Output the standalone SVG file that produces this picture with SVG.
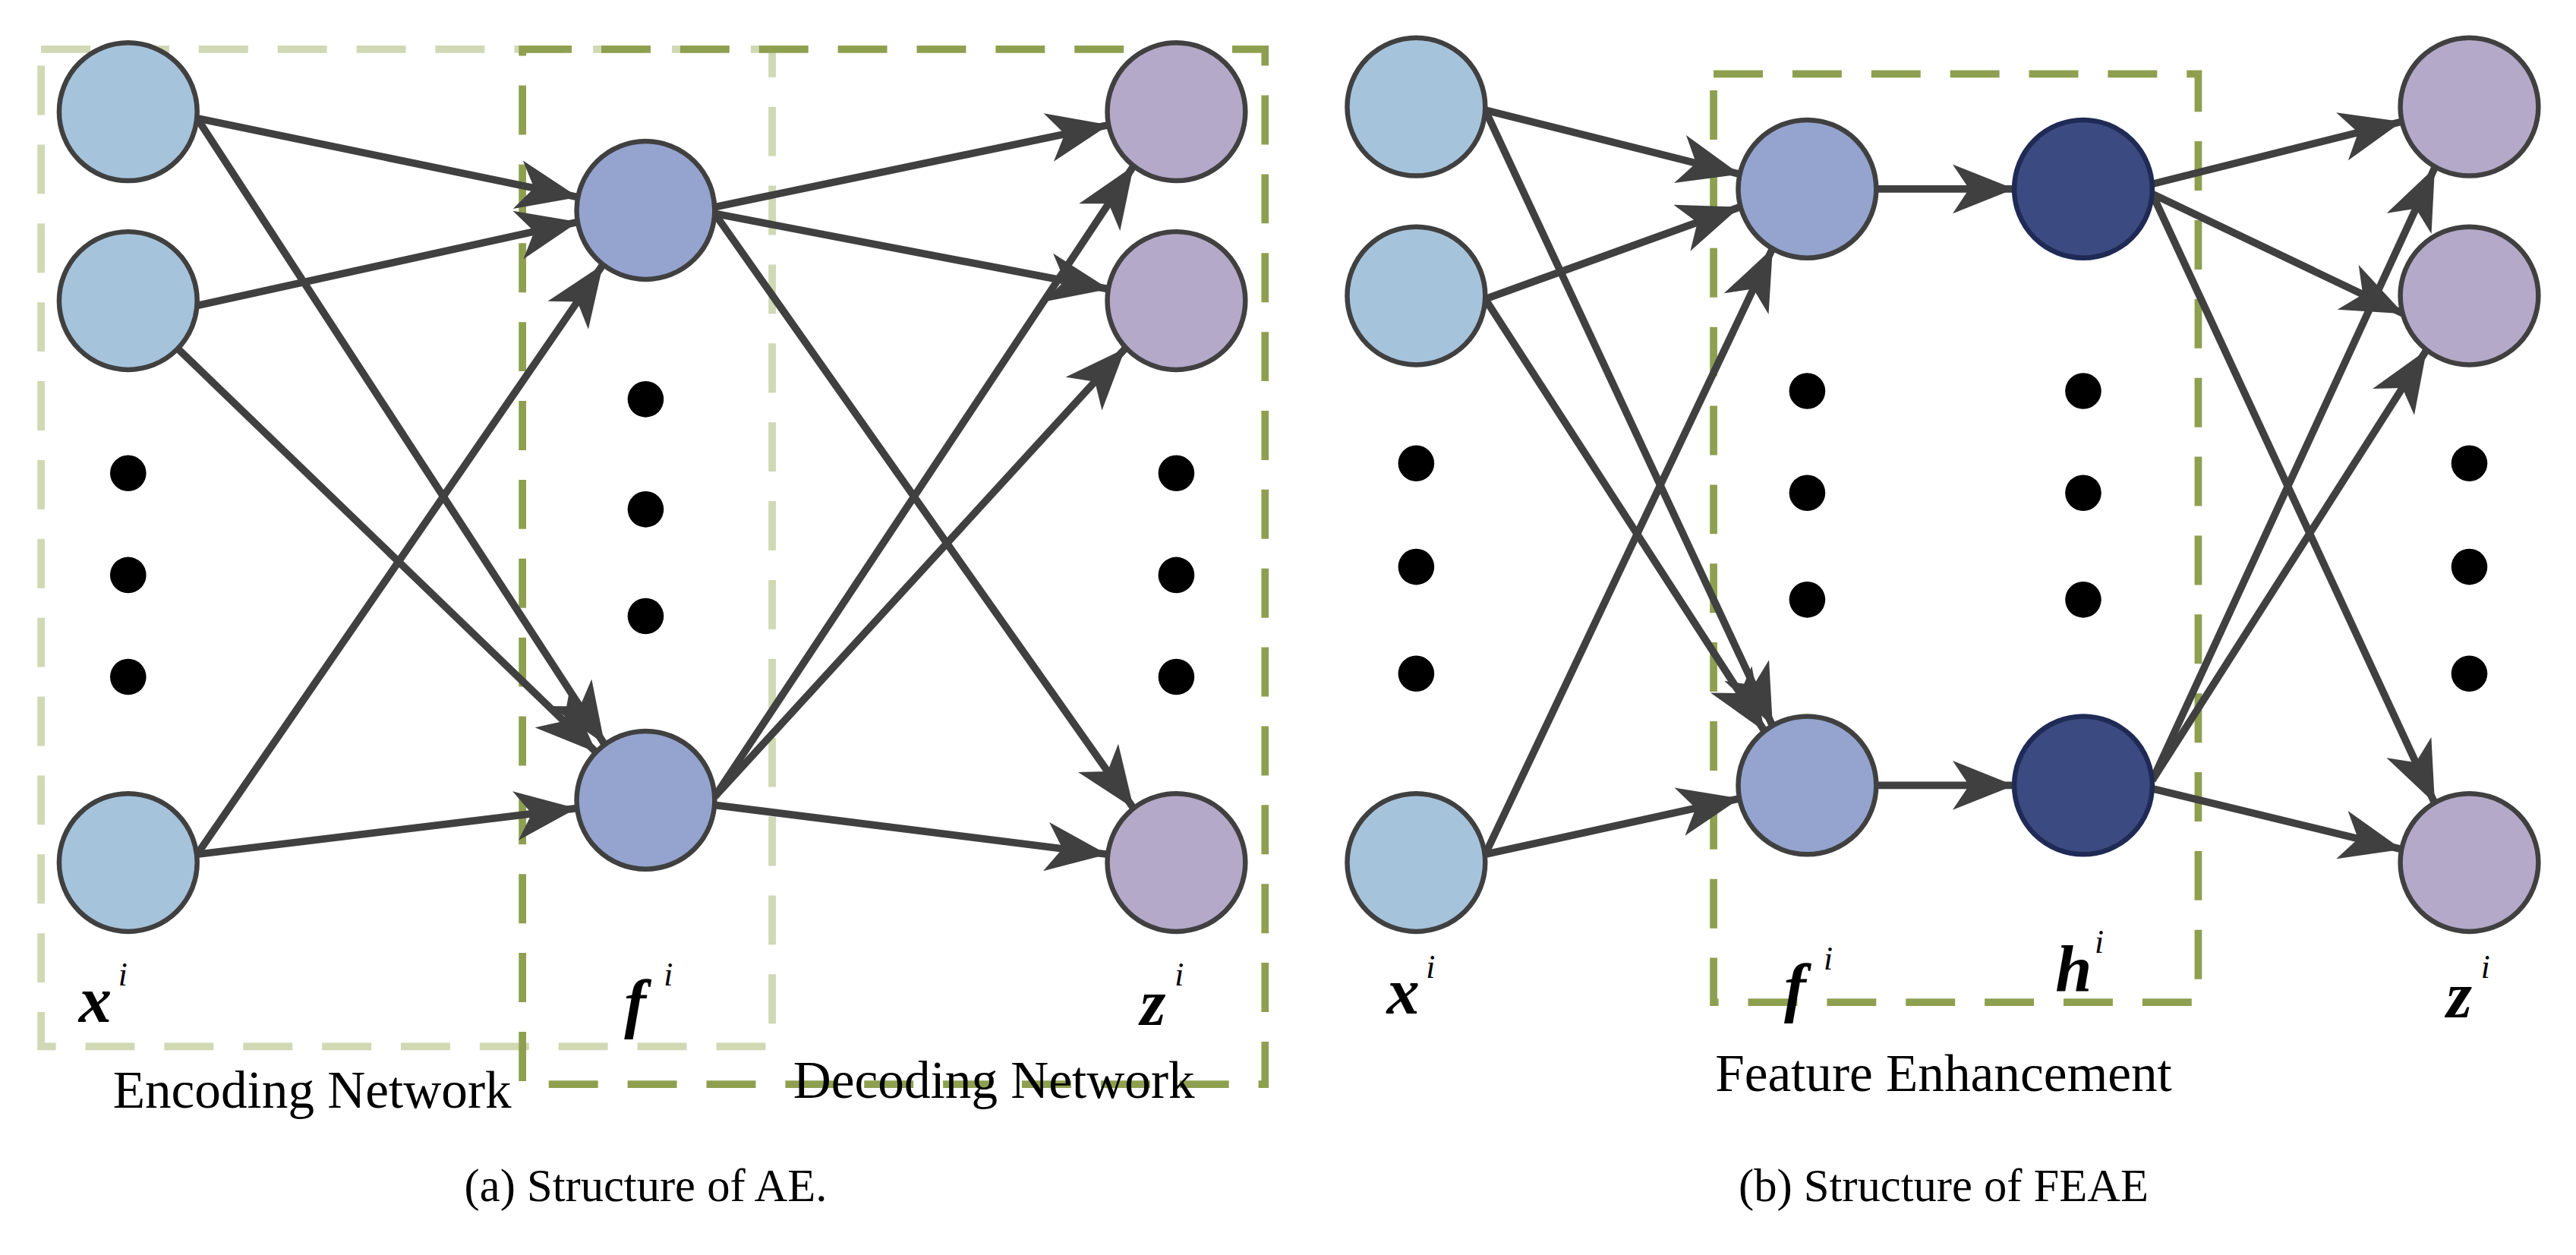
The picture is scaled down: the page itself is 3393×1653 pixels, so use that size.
<svg xmlns="http://www.w3.org/2000/svg" width="3393" height="1653" viewBox="0 0 3393 1653">
<style>
.e{stroke:#404040;stroke-width:4.5;fill:none;marker-end:url(#ah)}
.n{stroke:#404040;stroke-width:3}
.x{fill:#a6c3dc}.f{fill:#94a4cf}.z{fill:#b4a9c9}.h{fill:#3b4a80;stroke:#1f2a55}
.d{fill:#000}
.lb{fill:none;stroke:#d0d8b4;stroke-width:4.5;stroke-dasharray:30 18}
.db{fill:none;stroke:#8ea050;stroke-width:4.5;stroke-dasharray:30 18}
.t{font-family:"Liberation Serif",serif;fill:#000}
.m{font-family:"Liberation Serif",serif;font-weight:bold;font-style:italic;font-size:40px}
.s{font-family:"Liberation Serif",serif;font-style:italic;font-size:20px}
</style>
<defs>
<marker id="ah" viewBox="0 0 30 24" refX="30" refY="12" markerWidth="38" markerHeight="30" markerUnits="userSpaceOnUse" orient="auto">
<path d="M0,0 L30,12 L0,24 L8,12 Z" fill="#404040"/>
</marker>
</defs>
<rect width="3393" height="1653" fill="#fff"/>
<g transform="scale(2.164)">
<g id="boxes">
<rect class="lb" x="25" y="30" width="445" height="607"/>
<rect class="db" x="318" y="30" width="452" height="630"/>
<rect class="db" x="1043" y="45" width="295" height="565"/>
</g>
<g id="connectors">
<line class="e" x1="120" y1="72" x2="352" y2="120"/>
<line class="e" x1="120" y1="72" x2="368" y2="453"/>
<line class="e" x1="120" y1="186" x2="352" y2="135"/>
<line class="e" x1="108" y1="212" x2="363" y2="458"/>
<line class="e" x1="120" y1="520" x2="367" y2="161"/>
<line class="e" x1="120" y1="520" x2="351" y2="492"/>
<line class="e" x1="435" y1="126" x2="675" y2="76"/>
<line class="e" x1="435" y1="130" x2="675" y2="176"/>
<line class="e" x1="435" y1="130" x2="690" y2="492"/>
<line class="e" x1="435" y1="485" x2="690" y2="101"/>
<line class="e" x1="435" y1="485" x2="685" y2="212"/>
<line class="e" x1="435" y1="490" x2="674" y2="520"/>
<line class="e" x1="904" y1="67" x2="1059" y2="106"/>
<line class="e" x1="904" y1="67" x2="1079" y2="442"/>
<line class="e" x1="904" y1="182" x2="1059" y2="126"/>
<line class="e" x1="904" y1="182" x2="1074" y2="445"/>
<line class="e" x1="904" y1="520" x2="1079" y2="151"/>
<line class="e" x1="904" y1="520" x2="1059" y2="486"/>
<line class="e" x1="1142" y1="115" x2="1226" y2="115"/>
<line class="e" x1="1142" y1="478" x2="1226" y2="478"/>
<line class="e" x1="1310" y1="112" x2="1462" y2="74"/>
<line class="e" x1="1310" y1="118" x2="1463" y2="191"/>
<line class="e" x1="1310" y1="118" x2="1482" y2="489"/>
<line class="e" x1="1310" y1="475" x2="1482" y2="102"/>
<line class="e" x1="1310" y1="475" x2="1477" y2="213"/>
<line class="e" x1="1310" y1="480" x2="1462" y2="517"/>
</g>
<g id="a-x"><circle class="n x" cx="78" cy="68" r="42"/><circle class="n x" cx="78" cy="183" r="42"/><circle class="n x" cx="78" cy="525" r="42"/>
<circle class="d" cx="78" cy="288" r="11"/><circle class="d" cx="78" cy="350" r="11"/><circle class="d" cx="78" cy="412" r="11"/></g>
<g id="a-f"><circle class="n f" cx="393" cy="128" r="42"/><circle class="n f" cx="393" cy="487" r="42"/>
<circle class="d" cx="393" cy="243" r="11"/><circle class="d" cx="393" cy="310" r="11"/><circle class="d" cx="393" cy="375" r="11"/></g>
<g id="a-z"><circle class="n z" cx="716" cy="68" r="42"/><circle class="n z" cx="716" cy="183" r="42"/><circle class="n z" cx="716" cy="525" r="42"/>
<circle class="d" cx="716" cy="288" r="11"/><circle class="d" cx="716" cy="350" r="11"/><circle class="d" cx="716" cy="412" r="11"/></g>
<g id="b-x"><circle class="n x" cx="862" cy="65" r="42"/><circle class="n x" cx="862" cy="180" r="42"/><circle class="n x" cx="862" cy="525" r="42"/>
<circle class="d" cx="862" cy="282" r="11"/><circle class="d" cx="862" cy="345" r="11"/><circle class="d" cx="862" cy="410" r="11"/></g>
<g id="b-f"><circle class="n f" cx="1100" cy="115" r="42"/><circle class="n f" cx="1100" cy="478" r="42"/>
<circle class="d" cx="1100" cy="238" r="11"/><circle class="d" cx="1100" cy="300" r="11"/><circle class="d" cx="1100" cy="365" r="11"/></g>
<g id="b-h"><circle class="n h" cx="1268" cy="115" r="42"/><circle class="n h" cx="1268" cy="478" r="42"/>
<circle class="d" cx="1268" cy="238" r="11"/><circle class="d" cx="1268" cy="300" r="11"/><circle class="d" cx="1268" cy="365" r="11"/></g>
<g id="b-z"><circle class="n z" cx="1503" cy="65" r="42"/><circle class="n z" cx="1503" cy="180" r="42"/><circle class="n z" cx="1503" cy="525" r="42"/>
<circle class="d" cx="1503" cy="282" r="11"/><circle class="d" cx="1503" cy="345" r="11"/><circle class="d" cx="1503" cy="410" r="11"/></g>
<g id="labels">
<text x="48" y="622" class="m">x</text><text x="72" y="600" class="s">i</text>
<text x="380" y="624" class="m">f</text><text x="404" y="600" class="s">i</text>
<text x="694" y="624" class="m">z</text><text x="715" y="600" class="s">i</text>
<text x="844" y="617" class="m">x</text><text x="868" y="595" class="s">i</text>
<text x="1086" y="614" class="m">f</text><text x="1110" y="590" class="s">i</text>
<text x="1251" y="603" class="m">h</text><text x="1275" y="580" class="s">i</text>
<text x="1489" y="619" class="m">z</text><text x="1510" y="595" class="s">i</text>
<text x="190" y="674" class="t" font-size="32" text-anchor="middle">Encoding Network</text>
<text x="605" y="668" class="t" font-size="32" text-anchor="middle">Decoding Network</text>
<text x="1183" y="664" class="t" font-size="32" text-anchor="middle">Feature Enhancement</text>
<text x="393" y="731" class="t" font-size="28" text-anchor="middle">(a)  Structure of AE.</text>
<text x="1183" y="731" class="t" font-size="28" text-anchor="middle">(b)  Structure of FEAE</text>
</g>
</g>
</svg>
